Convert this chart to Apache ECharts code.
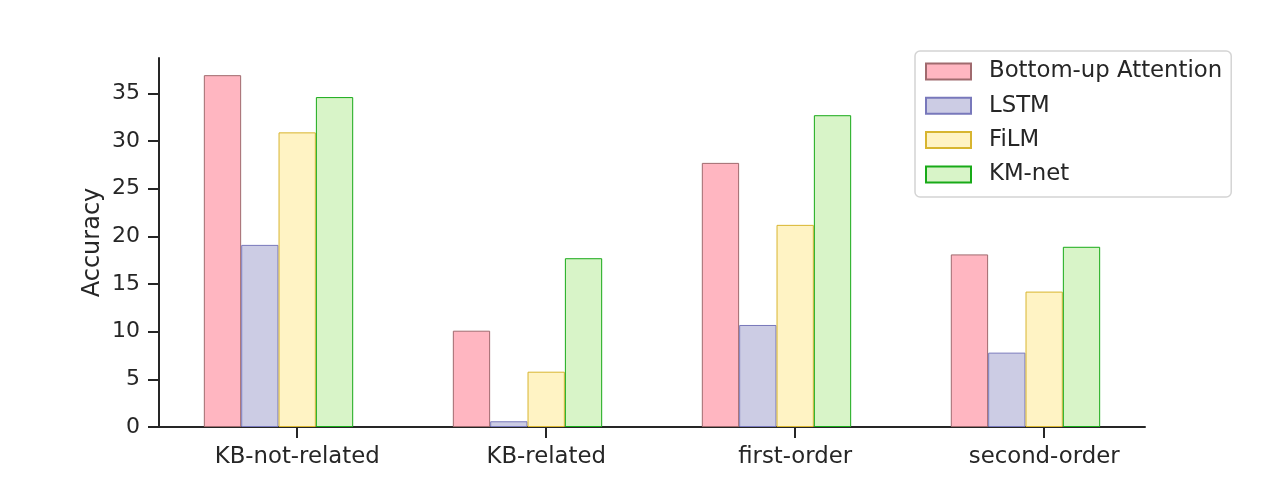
<!DOCTYPE html>
<html><head><meta charset="utf-8">
<script src="https://cdn.jsdelivr.net/npm/echarts@6/dist/echarts.min.js"></script>
<style>html,body{margin:0;padding:0;background:#fff}#c{width:1272px;height:480px}</style>
</head><body><div id="c"></div>
<script>
const categories = ['KB-not-related', 'KB-related', 'first-order', 'second-order'];
const seriesNames = ['Bottom-up Attention', 'LSTM', 'FiLM', 'KM-net'];
const bottomUp = [36.9, 10.1, 27.7, 18.1];
const lstm = [19.1, 0.6, 10.7, 7.8];
const film = [30.9, 5.8, 21.2, 14.2];
const kmnet = [34.6, 17.7, 32.7, 18.9];
const yTicks = [0, 5, 10, 15, 20, 25, 30, 35];

const values = [bottomUp, lstm, film, kmnet];
const offsets = [-0.3, -0.15, 0, 0.15];
const fills = ['#ffb6c1', '#ccccE4', '#fff3c4', '#d8f4c8'];
const edges = ['#a06a6e', '#7878bb', '#d8b530', '#18aa18'];
const font = 'DejaVu Sans';
const catIdx = categories.map((_, i) => i);

const chart = echarts.init(document.getElementById('c'), null, {renderer: 'canvas'});
chart.setOption({
  animation: false,
  textStyle: {fontFamily: font},
  grid: {left: 159, right: 127, top: 58, bottom: 53, containLabel: false},
  xAxis: {
    type: 'value', min: -0.555, max: 3.405,
    splitLine: {show: false},
    axisLine: {show: true, onZero: false, lineStyle: {color: '#262626', width: 2}},
    axisTick: {show: true, customValues: catIdx, length: 11, lineStyle: {color: '#262626', width: 2}},
    axisLabel: {customValues: catIdx, formatter: v => categories[Math.round(v)], fontSize: 22.8, color: '#262626', margin: 19, fontFamily: font}
  },
  yAxis: {
    type: 'value', min: 0, max: 38.7,
    name: 'Accuracy', nameLocation: 'middle', nameGap: 54, nameRotate: 90, nameMoveOverlap: false,
    nameTextStyle: {fontSize: 24, color: '#262626', fontFamily: font},
    splitLine: {show: false},
    axisLine: {show: true, onZero: false, lineStyle: {color: '#262626', width: 2}},
    axisTick: {show: true, customValues: yTicks, length: 11, lineStyle: {color: '#262626', width: 2}},
    axisLabel: {customValues: yTicks, fontSize: 22, color: '#262626', margin: 19, fontFamily: font}
  },
  legend: {
    orient: 'vertical', left: 915, top: 51,
    padding: [9, 9, 11, 10],
    itemWidth: 45, itemHeight: 16, itemGap: 11.3,
    backgroundColor: '#fff', borderColor: '#d4d4d4', borderWidth: 1.5, borderRadius: 5,
    textStyle: {fontSize: 22.8, color: '#262626', fontFamily: font, lineHeight: 23, padding: [0, 0, 0, 13]},
    data: seriesNames.map(n => ({name: n, icon: 'rect'}))
  },
  series: seriesNames.map((name, s) => ({
    name, type: 'bar',
    barWidth: 37.3, barGap: '-100%',
    data: values[s].map((v, i) => [i + offsets[s], v]),
    itemStyle: {color: fills[s], borderColor: edges[s], borderWidth: 1}
  }))
});
</script></body></html>
